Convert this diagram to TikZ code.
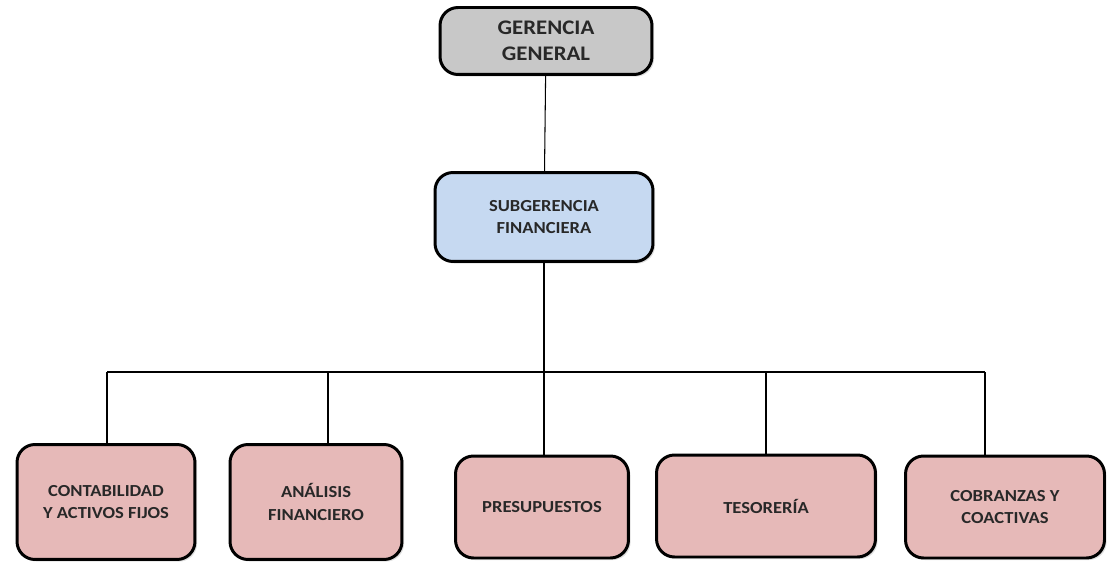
\documentclass[tikz,border=0pt]{standalone}
\usepackage{fontspec}
\setmainfont{Carlito}[FakeStretch=1.1]
\usetikzlibrary{shadows}
\definecolor{topgray}{RGB}{200,200,200}
\definecolor{subblue}{RGB}{198,217,241}
\definecolor{unitpink}{RGB}{230,185,184}
\definecolor{txtgray}{RGB}{40,40,40}
\begin{document}
\begin{tikzpicture}[x=0.02cm,y=-0.02cm,
  box/.style = {rectangle,rounded corners=0.36cm,draw=black,line width=1.7pt,
                align=center,text=txtgray,inner sep=0pt,
                drop shadow={opacity=0.25,shadow xshift=1.2pt,shadow yshift=-1.2pt}},
  unit/.style = {box,fill=unitpink,minimum height=2.04cm,font=\bfseries\fontsize{9.6}{13}\selectfont},
  link/.style = {draw=black,line width=0.6pt}]
\useasboundingbox (0,0) rectangle (1112,564);
\node[box,fill=topgray,minimum width=4.24cm,minimum height=1.34cm,
      font=\bfseries\fontsize{11.8}{14.5}\selectfont] (gg) at (546,41) {GERENCIA\\GENERAL};
\node[box,fill=subblue,minimum width=4.36cm,minimum height=1.78cm,
      font=\bfseries\fontsize{9.6}{12.5}\selectfont] (sf) at (544,217) {SUBGERENCIA\\FINANCIERA};
\node[unit,minimum width=3.56cm,minimum height=2.3cm] (cont) at (106,502) {CONTABILIDAD\\Y ACTIVOS FIJOS};
\node[unit,minimum width=3.44cm,minimum height=2.3cm] (anal) at (316,502) {ANÁLISIS\\FINANCIERO};
\node[unit,minimum width=3.46cm] (pres) at (542,507) {PRESUPUESTOS};
\node[unit,minimum width=4.38cm] (teso) at (766,506) {TESORERÍA};
\node[unit,minimum width=3.98cm] (cobr) at (1005,507) {COBRANZAS Y\\COACTIVAS};
% tramo horizontal
\foreach \name/\xx in {t1/107,t2/328,t3/544,t4/766,t5/985}
    \coordinate (\name) at (\xx,372);
\draw[link] (gg) -- (sf);
\draw[link] (sf) -- (sf.south |- pres.north);
\draw[link] (t1) -- (t5);
\foreach \name/\unit in {t1/cont,t2/anal,t4/teso,t5/cobr}
    \draw[link] (\name) -- (\name |- \unit.north);
\end{tikzpicture}
\end{document}
